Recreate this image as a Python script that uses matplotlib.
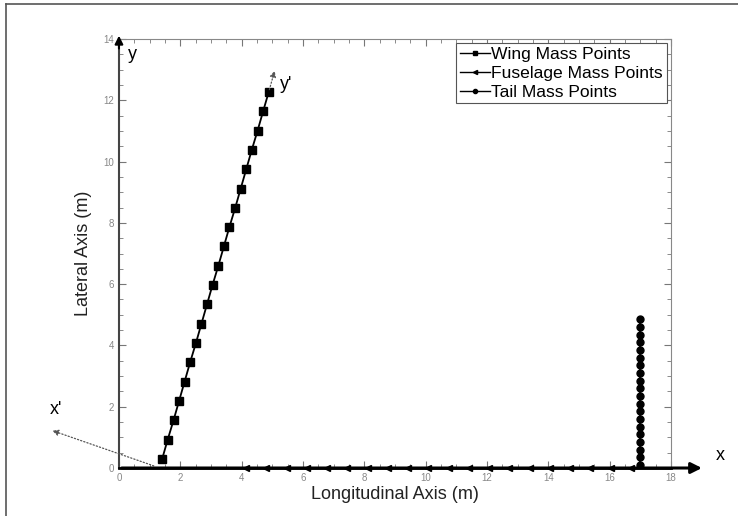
import matplotlib.pyplot as plt
from matplotlib.lines import Line2D

plt.rcParams['font.family'] = ['Liberation Sans', 'DejaVu Sans']

# mass point positions (m)
wing_x = [1.41, 1.59, 1.78, 1.96, 2.14, 2.32, 2.51, 2.69, 2.87, 3.05,
          3.24, 3.42, 3.60, 3.79, 3.97, 4.15, 4.33, 4.52, 4.70, 4.88]
wing_y = [0.30, 0.93, 1.56, 2.19, 2.82, 3.45, 4.08, 4.71, 5.34, 5.97,
          6.60, 7.23, 7.86, 8.49, 9.12, 9.75, 10.38, 11.01, 11.64, 12.26]
fuse_x = [4.15, 4.81, 5.47, 6.13, 6.79, 7.45, 8.11, 8.77, 9.43, 10.09,
          10.75, 11.41, 12.07, 12.73, 13.39, 14.05, 14.71, 15.37, 16.03, 16.69]
fuse_y = [0.0] * 20
tail_x = [17.0] * 20
tail_y = [0.10, 0.35, 0.60, 0.85, 1.10, 1.35, 1.60, 1.85, 2.10, 2.35,
          2.60, 2.85, 3.10, 3.35, 3.60, 3.85, 4.10, 4.35, 4.60, 4.87]

x_ticks = [0, 2, 4, 6, 8, 10, 12, 14, 16, 18]
y_ticks = [0, 2, 4, 6, 8, 10, 12, 14]

fig = plt.figure(figsize=(7.38, 5.16), dpi=100)
ax = fig.add_axes([0.1612, 0.093, 0.748, 0.8314])

# outer frame (left and top only)
fig.add_artist(Line2D([0.0085, 0.0085], [0, 0.992], transform=fig.transFigure,
                      color='#555555', lw=1.2))
fig.add_artist(Line2D([0.0085, 1.0], [0.992, 0.992], transform=fig.transFigure,
                      color='#555555', lw=1.2))

ax.plot(wing_x, wing_y, '-s', color='black', lw=1.3, ms=5.5,
        label='Wing Mass Points')
ax.plot(fuse_x, fuse_y, '-<', color='black', lw=1.3, ms=5,
        label='Fuselage Mass Points', clip_on=False, zorder=5)
ax.plot(tail_x, tail_y, '-o', color='black', lw=1.3, ms=5,
        label='Tail Mass Points', zorder=5)

# body axes x', y'
ax.annotate('', xy=(-2.26, 1.25), xytext=(1.22, 0.04),
            arrowprops=dict(arrowstyle='-|>', ls=':', color='#555555', lw=0.9,
                            mutation_scale=9), annotation_clip=False)
ax.annotate('', xy=(5.1, 13.05), xytext=(wing_x[-1], wing_y[-1]),
            arrowprops=dict(arrowstyle='-|>', ls=':', color='#555555', lw=0.9,
                            mutation_scale=9), annotation_clip=False)
ax.text(-2.05, 1.9, "x'", fontsize=13, ha='center', va='center', clip_on=False)
ax.text(5.45, 12.5, "y'", fontsize=13, ha='center', va='center')

# inertial axes x, y
ax.annotate('', xy=(19.1, 0), xytext=(0, 0),
            arrowprops=dict(arrowstyle='-|>', color='black', lw=2.2,
                            mutation_scale=16), annotation_clip=False, zorder=4)
ax.annotate('', xy=(0, 14.2), xytext=(0, 13.6),
            arrowprops=dict(arrowstyle='-|>', color='black', lw=1.5,
                            mutation_scale=12), annotation_clip=False)
ax.text(19.6, 0.4, 'x', fontsize=13, ha='center', va='center', clip_on=False)
ax.text(0.45, 13.5, 'y', fontsize=13, ha='center', va='center')

ax.set_xlim(0, 18)
ax.set_ylim(0, 14)
ax.set_xticks(x_ticks)
ax.set_yticks(y_ticks)
ax.set_xticks([v / 2 for v in range(0, 37)], minor=True)
ax.set_yticks([v / 2 for v in range(0, 29)], minor=True)
ax.tick_params(which='both', direction='in', top=True, right=True,
               colors='#777777', labelsize=7, labelcolor='#888888')
ax.tick_params(which='major', length=5, width=0.8)
ax.tick_params(which='minor', length=3, width=0.6)
for side in ['top', 'right']:
    ax.spines[side].set_color('#888888')
    ax.spines[side].set_linewidth(0.8)
ax.spines['left'].set_color('#444444')
ax.spines['left'].set_linewidth(1.5)
ax.spines['bottom'].set_color('black')
ax.spines['bottom'].set_linewidth(2)

ax.set_xlabel('Longitudinal Axis (m)', fontsize=13, color='#222222', labelpad=2)
ax.set_ylabel('Lateral Axis (m)', fontsize=13, color='#222222', labelpad=8)

leg = ax.legend(loc='upper right', fontsize=12.6, fancybox=False, framealpha=1,
                handlelength=1.7, handletextpad=0.1, borderpad=0.2,
                labelspacing=0.2, borderaxespad=0.25, edgecolor='#555555',
                markerscale=0.6)
leg.get_frame().set_linewidth(0.8)
for h in leg.legend_handles:
    h.set_linewidth(1.0)

fig.savefig('out.png', dpi=100)
